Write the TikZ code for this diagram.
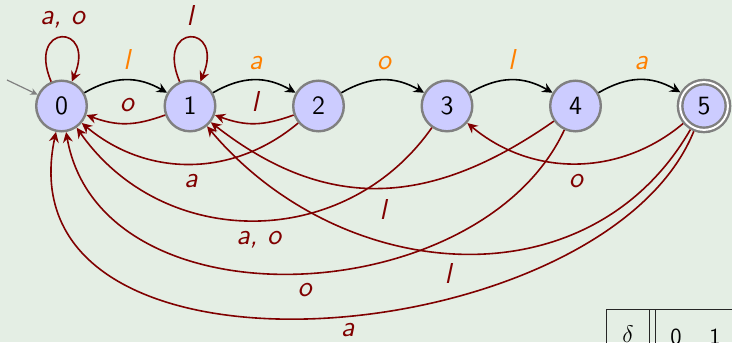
\documentclass[tikz,border=0pt]{standalone}
\usepackage{fontspec}
\usetikzlibrary{arrows.meta}
\definecolor{bgc}{RGB}{228,238,228}
\definecolor{stfill}{RGB}{204,204,255}
\definecolor{stdraw}{RGB}{128,128,128}
\definecolor{redc}{RGB}{128,0,0}
\definecolor{orc}{RGB}{255,128,0}
\begin{document}
\begin{tikzpicture}[x=0.5pt,y=0.5pt,
  stnode/.style={circle, draw=stdraw, fill=stfill, line width=1.2pt, minimum size=25.3pt, inner sep=0pt,
    font=\fontsize{13.2}{15}\selectfont\sffamily},
  accept/.style={double=white, double distance=1pt, minimum size=23.9pt, outer sep=1.7pt},
  tipk/.style={-{Stealth[length=5.2pt,width=5pt,inset=1.8pt]}},
  fedge/.style={draw=black, line width=0.8pt, tipk},
  redge/.style={draw=redc, line width=0.8pt, tipk},
  iedge/.style={draw=stdraw, line width=0.6pt, -{Stealth[length=3.6pt,width=3.4pt,inset=1.2pt]}},
  olbl/.style={text=orc, anchor=base, inner sep=0pt, font=\fontsize{14.4}{16}\selectfont\sffamily\itshape},
  rlbl/.style={olbl, text=redc},
  tlbl/.style={anchor=base, inner sep=0pt, font=\fontsize{11.5}{13}\selectfont\sffamily},
  tline/.style={draw=black!85, line width=0.45pt}
]
\path[use as bounding box, fill=bgc] (0,0) rectangle (732,342);
\clip (0,0) rectangle (732,342);

% states
\node[stnode] (q0) at (61.5,236) {0};
\node[stnode] (q1) at (190,236) {1};
\node[stnode] (q2) at (318.5,236) {2};
\node[stnode] (q3) at (447,236) {3};
\node[stnode] (q4) at (575.5,236) {4};
\node[stnode,accept] (q5) at (704,236) {5};

% initial arrow
\coordinate (ini) at (7,262);
\draw[iedge] (ini) -- (q0);

% forward edges
\draw[fedge] (q0) to[out=30,in=150,distance=17pt] (q1);
\draw[fedge] (q1) to[out=30,in=150,distance=17pt] (q2);
\draw[fedge] (q2) to[out=30,in=150,distance=17pt] (q3);
\draw[fedge] (q3) to[out=30,in=150,distance=17pt] (q4);
\draw[fedge] (q4) to[out=30,in=150,distance=17pt] (q5);

% self loops
\draw[redge] (q0) to[out=113,in=67,distance=32pt] (q0);
\draw[redge] (q1) to[out=113,in=67,distance=32pt] (q1);

% back edges
\draw[redge] (q1) to[out=200,in=340,distance=16.4pt] (q0);
\draw[redge] (q2) to[out=200,in=340,distance=16.4pt] (q1);
\draw[redge] (q2) to[out=220,in=320,distance=42.5pt] (q0);
\draw[redge] (q3) to[out=235,in=305,distance=75.5pt] (q0);
\draw[redge] (q4) to[out=245,in=280,distance=100.4pt] (q0);
\draw[redge] (q4) to[out=215,in=322,distance=74.3pt] (q1);
\draw[redge] (q5) to[out=220,in=320,distance=41.8pt] (q3);
\draw[redge] (q5) to[out=240,in=310,distance=102.7pt] (q1);
\draw[redge] (q5) to[out=248,in=258,out distance=120pt,in distance=140pt] (q0);

% labels forward
\node[olbl] (f01) at (126.7,272) {l};
\node[olbl] (f12) at (255.5,272) {a};
\node[olbl] (f23) at (384,272) {o};
\node[olbl] (f34) at (511.5,272) {l};
\node[olbl] (f45) at (641,272) {a};
% loop labels
\node[rlbl] (l00) at (62.5,317) {a, o};
\node[rlbl] (l11) at (190,316) {l};
% back labels
\node[rlbl] (b10) at (127,230) {o};
\node[rlbl] (b21) at (255,230) {l};
\node[rlbl] (b20) at (191,154) {a};
\node[rlbl] (b30) at (258.7,97) {a, o};
\node[rlbl] (b40) at (304.7,45.3) {o};
\node[rlbl] (b50) at (347.5,5.4) {a};
\node[rlbl] (b41) at (383,122.7) {l};
\node[rlbl] (b51) at (448,58.7) {l};
\node[rlbl] (b53) at (576,154.7) {o};

% table (partially visible)
\draw[tline] (606.7,-20) -- (606.7,32.7) -- (740,32.7);
\draw[tline] (649.3,-20) -- (649.3,32.7);
\draw[tline] (655,-20) -- (655,32.7);
\node[tlbl] (tdelta) at (628,-1) {$\delta$};
\node[tlbl] (tz) at (676,-2.6) {0};
\node[tlbl] (to) at (715,-2.6) {1};
\end{tikzpicture}
\end{document}
